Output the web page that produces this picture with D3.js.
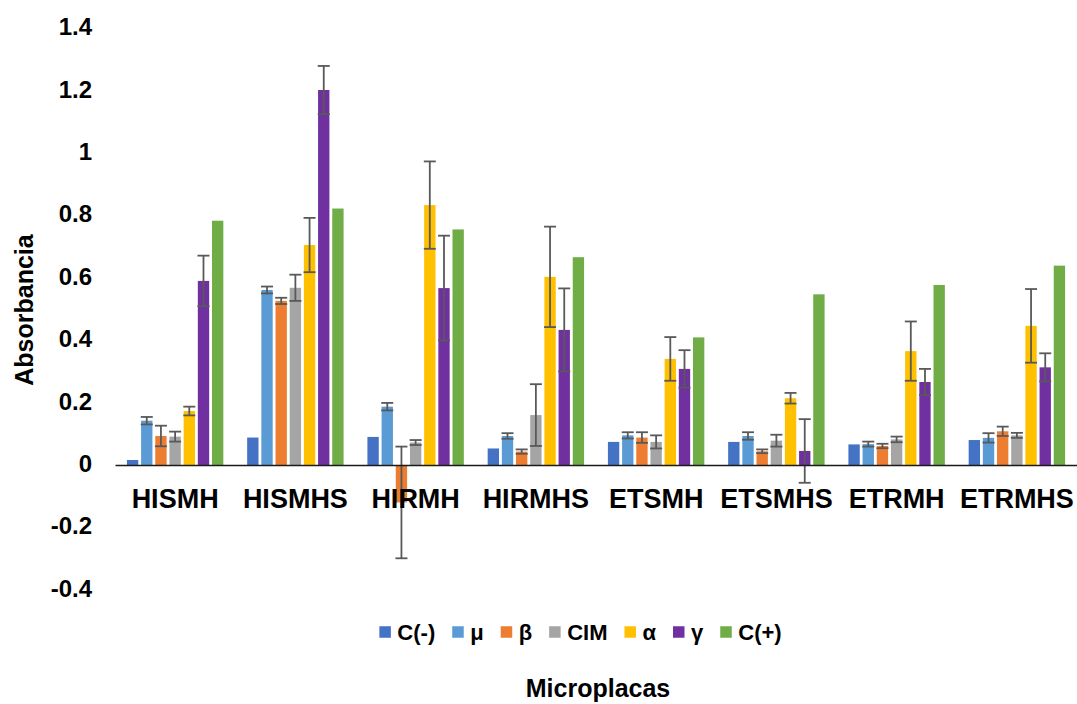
<!DOCTYPE html>
<html>
<head>
<meta charset="utf-8">
<script src="https://cdn.jsdelivr.net/npm/d3@7"></script>
<style>
  html, body { margin: 0; padding: 0; background: #fff; }
  svg { display: block; }
  text { font-family: "Liberation Sans", Arial, sans-serif; font-weight: bold; fill: #000; }
</style>
</head>
<body>
<svg id="chart" width="1077" height="704"></svg>
<script>
// ---- Data ----
const categories = ["HISMH", "HISMHS", "HIRMH", "HIRMHS", "ETSMH", "ETSMHS", "ETRMH", "ETRMHS"];
const seriesNames = ["C(-)", "μ", "β", "CIM", "α", "γ", "C(+)"];
const seriesColors = ["#4472C4", "#5B9BD5", "#ED7D31", "#A5A5A5", "#FFC000", "#7030A0", "#70AD47"];

const cNeg     = [0.016, 0.088, 0.090, 0.053, 0.074, 0.074, 0.066, 0.080];
const mu       = [0.142, 0.561, 0.187, 0.093, 0.095, 0.093, 0.067, 0.087];
const muErr    = [0.012, 0.011, 0.012, 0.009, 0.010, 0.012, 0.008, 0.015];
const beta     = [0.093, 0.526, -0.120, 0.043, 0.088, 0.044, 0.061, 0.108];
const betaErr  = [0.033, 0.010, 0.179, 0.007, 0.017, 0.006, 0.007, 0.015];
const cim      = [0.091, 0.568, 0.072, 0.160, 0.074, 0.078, 0.082, 0.095];
const cimErr   = [0.016, 0.042, 0.008, 0.099, 0.021, 0.019, 0.009, 0.008];
const alpha    = [0.173, 0.705, 0.833, 0.603, 0.340, 0.214, 0.365, 0.446];
const alphaErr = [0.014, 0.087, 0.140, 0.161, 0.070, 0.017, 0.095, 0.118];
const gamma    = [0.590, 1.202, 0.567, 0.433, 0.308, 0.045, 0.266, 0.313];
const gammaErr = [0.081, 0.077, 0.168, 0.133, 0.060, 0.102, 0.042, 0.045];
const cPos     = [0.783, 0.822, 0.755, 0.666, 0.409, 0.547, 0.577, 0.639];

const yTicks = [-0.4, -0.2, 0, 0.2, 0.4, 0.6, 0.8, 1, 1.2, 1.4];
const yTitle = "Absorbancia";
const xTitle = "Microplacas";

const seriesValues = [cNeg, mu, beta, cim, alpha, gamma, cPos];
const seriesErrors = [null, muErr, betaErr, cimErr, alphaErr, gammaErr, null];

// ---- Layout ----
const svg = d3.select("#chart");
const plot = { left: 115, right: 1077, top: 28.2, bottom: 589.8 };

const x0 = d3.scaleBand().domain(categories).range([plot.left, plot.right]).padding(0);
const x1 = d3.scaleBand().domain(seriesNames).range([0, x0.bandwidth()])
  .paddingInner(0.2).paddingOuter(0.84);
const y = d3.scaleLinear().domain([-0.4, 1.4]).range([plot.bottom, plot.top]);

// Bars
const rows = [];
categories.forEach((c, ci) => {
  seriesNames.forEach((s, si) => {
    rows.push({ cat: c, ser: s, si, v: seriesValues[si][ci],
      e: seriesErrors[si] ? seriesErrors[si][ci] : null });
  });
});

const gBars = svg.append("g");
gBars.selectAll("rect").data(rows).join("rect")
  .attr("x", d => x0(d.cat) + x1(d.ser))
  .attr("width", x1.bandwidth())
  .attr("y", d => y(Math.max(0, d.v)))
  .attr("height", d => Math.abs(y(d.v) - y(0)))
  .attr("fill", d => seriesColors[d.si]);

// Error bars
const errRows = rows.filter(d => d.e !== null);
const gErr = svg.append("g").attr("stroke", "#595959").attr("stroke-width", 1.8).attr("fill", "none");
const cx = d => x0(d.cat) + x1(d.ser) + x1.bandwidth() / 2;
const capHalf = 6;
gErr.selectAll("line.v").data(errRows).join("line").attr("class", "v")
  .attr("x1", cx).attr("x2", cx)
  .attr("y1", d => y(d.v + d.e)).attr("y2", d => y(d.v - d.e));
gErr.selectAll("line.t").data(errRows).join("line").attr("class", "t")
  .attr("x1", d => cx(d) - capHalf).attr("x2", d => cx(d) + capHalf)
  .attr("y1", d => y(d.v + d.e)).attr("y2", d => y(d.v + d.e));
gErr.selectAll("line.b").data(errRows).join("line").attr("class", "b")
  .attr("x1", d => cx(d) - capHalf).attr("x2", d => cx(d) + capHalf)
  .attr("y1", d => y(d.v - d.e)).attr("y2", d => y(d.v - d.e));

// Y axis (labels only)
const fmt = v => String(Math.round(v * 10) / 10).replace("−", "-");
const yAxis = svg.append("g").attr("transform", `translate(92,0)`)
  .call(d3.axisLeft(y).tickValues(yTicks).tickFormat(fmt).tickSize(0).tickPadding(0));
yAxis.select(".domain").remove();
yAxis.selectAll("text")
  .style("font-family", '"Liberation Sans", Arial, sans-serif')
  .style("font-weight", "bold").style("font-size", "24px").attr("fill", "#000")
  .attr("dy", "0.33em").attr("y", -1.5);

// X axis at zero
const xAxis = svg.append("g").attr("transform", `translate(0,${y(0)})`)
  .call(d3.axisBottom(x0).tickSize(0).tickSizeOuter(0).tickPadding(24));
xAxis.select(".domain").attr("stroke", "#1a1a1a").attr("stroke-width", 1.7);
xAxis.selectAll("text")
  .style("font-family", '"Liberation Sans", Arial, sans-serif')
  .style("font-weight", "bold").style("font-size", "27px").attr("fill", "#000");

// Axis titles
svg.append("text").attr("transform", "translate(33,310) rotate(-90)")
  .attr("text-anchor", "middle").style("font-size", "25px").text(yTitle);
svg.append("text").attr("x", 598).attr("y", 697)
  .attr("text-anchor", "middle").style("font-size", "25px").text(xTitle);

// Legend
const legend = svg.append("g");
const items = legend.selectAll("g").data(seriesNames).join("g");
items.append("rect").attr("width", 11.5).attr("height", 11.5).attr("y", -11.5 / 2)
  .attr("fill", (d, i) => seriesColors[i]);
items.append("text").attr("x", 18).attr("dy", "0.35em").style("font-size", "22px").text(d => d);
let pos = 0;
const lx = [];
items.each(function (d, i) {
  lx.push(pos);
  const w = this.querySelector("text").getComputedTextLength();
  pos += 18 + w + 17;
});
const totalW = pos - 17;
const startX = 580.5 - totalW / 2;
items.attr("transform", (d, i) => `translate(${startX + lx[i]},632)`);
</script>
</body>
</html>
